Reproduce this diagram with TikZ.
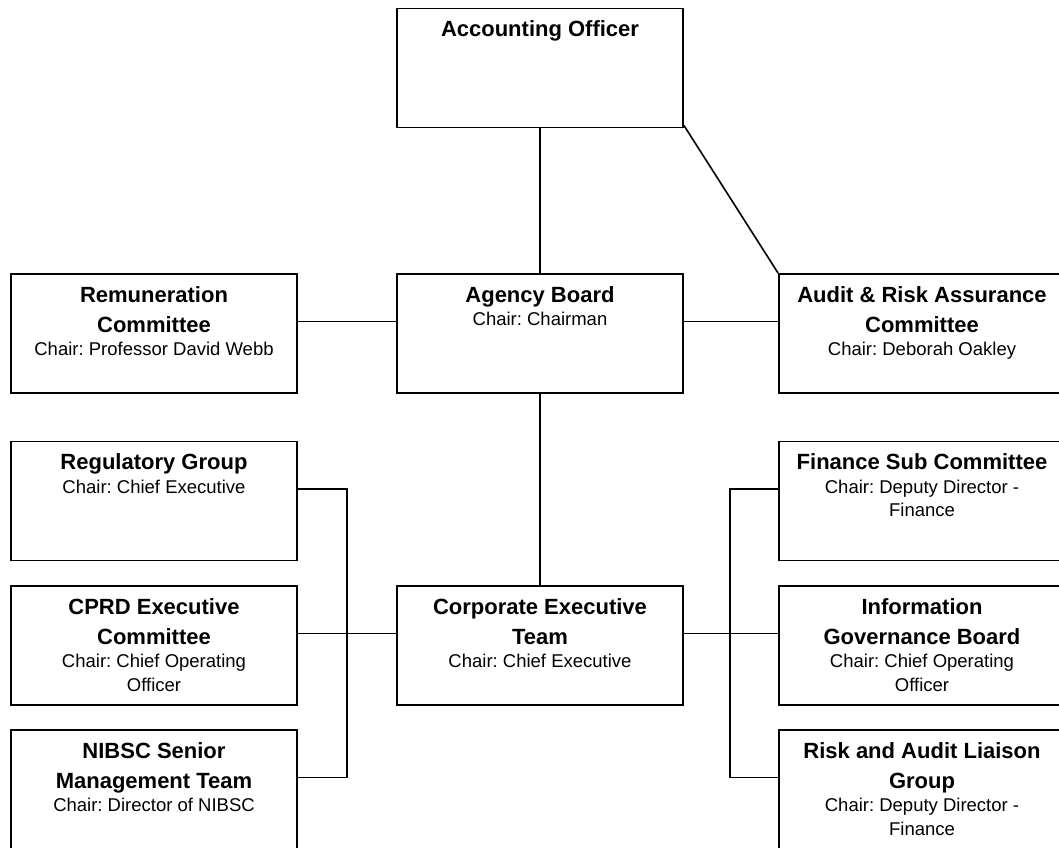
\documentclass[tikz,border=0pt]{standalone}
\usepackage{fontspec}
\setmainfont{Liberation Sans}
\frenchspacing
\newcommand{\headfont}{\fontsize{22}{30}\selectfont\bfseries}
\newcommand{\chairfont}{\fontsize{18.5}{23.5}\selectfont\mdseries}
\newcommand{\orgtext}[2]{\parbox[c][119pt][t]{280pt}{\centering\headfont\rule{0pt}{28pt}#1\par\chairfont #2\par}}
\begin{document}
\begin{tikzpicture}[
  block/.style={rectangle, draw, line width=1.9pt, minimum width=286pt, minimum height=119pt, inner sep=0pt},
  link/.style={line width=1.6pt},
  node distance=386pt
]
\useasboundingbox (0,0) rectangle (1059pt,-847pt);
\node[block] (ao) at (540pt,-68pt) {\orgtext{Accounting Officer}{}};
\node[block, below of=ao, node distance=265.5pt] (board) {\orgtext{Agency Board}{Chair: Chairman}};
\node[block, left of=board] (remun) {\orgtext{Remuneration\\Committee}{Chair: Professor David Webb}};
\node[block, right of=board, node distance=382pt] (audit) {\orgtext{Audit \& Risk Assurance\\Committee}{Chair: Deborah Oakley}};

\node[block, below of=board, node distance=312pt] (cet) {\orgtext{Corporate Executive\\Team}{Chair: Chief Executive}};
\node[block, left of=cet] (cprd) {\orgtext{CPRD Executive\\Committee}{Chair: Chief Operating\\Officer}};
\node[block, above of=cprd, node distance=144.5pt] (reg) {\orgtext{Regulatory Group}{Chair: Chief Executive}};
\node[block, below of=cprd, node distance=144pt] (nibsc) {\orgtext{NIBSC Senior\\Management Team}{Chair: Director of NIBSC}};
\node[block, right of=cet, node distance=382pt] (igb) {\orgtext{Information\\Governance Board}{Chair: Chief Operating\\Officer}};
\node[block, above of=igb, node distance=144.5pt] (fin) {\orgtext{Finance Sub Committee}{Chair: Deputy Director -\\Finance}};
\node[block, below of=igb, node distance=144pt] (ral) {\orgtext{Risk and Audit Liaison\\Group}{Chair: Deputy Director -\\Finance}};

% top part
\draw[link] (ao) -- (board);
\draw[link] ([yshift=3pt]ao.south east) -- (audit.north west);
\draw[link] ([yshift=12pt]remun.east) -- ([yshift=12pt]board.west);
\draw[link] ([yshift=12pt]board.east) -- ([yshift=12pt]audit.west);
\draw[link] (board) -- (cet);

% committees under the executive team
\draw[link] ([yshift=12pt]cprd.east) -- ([yshift=12pt]cet.west);
\draw[link] ([yshift=12pt]reg.east) -- ++(49pt,0) |- ([yshift=12pt]nibsc.east);
\draw[link] ([yshift=12pt]cet.east) -- ([yshift=12pt]igb.west);
\draw[link] ([yshift=12pt]fin.west) -- ++(-48pt,0) |- ([yshift=12pt]ral.west);
\end{tikzpicture}
\end{document}
